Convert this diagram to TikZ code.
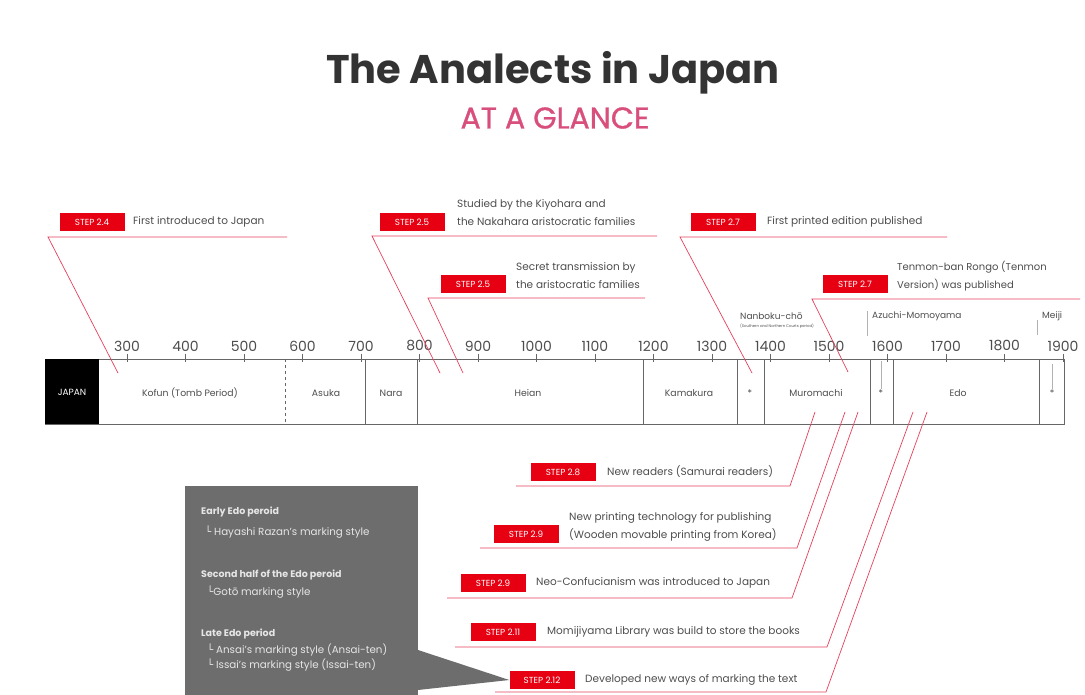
\documentclass[tikz,border=0pt]{standalone}
\usepackage{fontspec}
\setmainfont{Poppins}
\newfontfamily\medfont[FakeBold=1]{Poppins}
\newfontfamily\symfont{DejaVu Sans}
\definecolor{stepred}{HTML}{E60012}
\definecolor{linered}{HTML}{E4405A}
\definecolor{glance}{HTML}{D94F7C}
\definecolor{titlegray}{HTML}{333333}
\definecolor{textgray}{HTML}{4D4D4D}
\definecolor{boxline}{HTML}{666666}
\definecolor{calloutgray}{HTML}{6D6D6D}
\definecolor{calltext}{HTML}{E6E6E6}
\begin{document}
\begin{tikzpicture}[x=1pt,y=-1pt,
  stepbox/.style={fill=stepred,text=white,font=\fontsize{8.8}{9}\selectfont,minimum width=65pt,minimum height=18pt,inner sep=0pt},
  steptext/.style={anchor=west,text=textgray,font=\fontsize{10.5}{18}\selectfont,align=left,inner sep=0pt},
  uline/.style={linered,line width=0.7pt},
  frame/.style={draw=boxline,line width=0.8pt},
  divider/.style={boxline,line width=0.8pt},
  celllbl/.style={text=textgray,font=\fontsize{9.3}{10}\selectfont,inner sep=0pt},
  yearlbl/.style={text=textgray,font=\fontsize{14}{16}\selectfont,inner sep=0pt},
  tick/.style={boxline,line width=0.6pt},
  toplbl/.style={anchor=west,text=textgray,font=\fontsize{9}{10}\selectfont,inner sep=0pt},
  faint/.style={gray!60,line width=0.5pt},
  callhead/.style={anchor=west,text=calltext,font=\fontsize{9.5}{11}\selectfont\bfseries,inner sep=0pt},
  callitem/.style={anchor=west,text=calltext,font=\fontsize{10.3}{12}\selectfont,inner sep=0pt}
]
\useasboundingbox (0,0) rectangle (1085,695);

% Title
\node[font=\fontsize{40}{46}\selectfont\bfseries,text=titlegray] (title) at (553,73) {The Analects in Japan};
\node[font=\fontsize{30}{34}\selectfont\medfont,text=glance] (glance) at (555,118) {AT A GLANCE};

% Timeline frame
\node[frame,minimum width=1019pt,minimum height=65pt,inner sep=0pt,anchor=north west] (tl) at (45,359) {};
\node[fill=black,minimum width=54pt,minimum height=65pt,inner sep=0pt,anchor=north west] (japan) at (45,359) {};
\node[text=white,font=\fontsize{9}{10}\selectfont,inner sep=0pt] (japanlbl) at (72,392) {JAPAN};
\draw[divider,dashed] (285,359) -- (285,424);
\foreach \xx in {365,417,643,737,764,870,893,1039}{\draw[divider] (\xx,359) -- (\xx,424);}

% Years
\foreach \yr [count=\i from 0] in {300,400,...,1900}{
  \pgfmathsetmacro\xx{127+\i*58.5}
  \node[yearlbl] (yr\yr) at (\xx,346) {\yr};
  \draw[tick] (\xx,354) -- (\xx,362);
}

% Cell labels
\node[celllbl] (kofun) at (190,393) {Kofun (Tomb Period)};
\node[celllbl] (asuka) at (326,393) {Asuka};
\node[celllbl] (nara) at (391,393) {Nara};
\node[celllbl] (heian) at (528,393) {Heian};
\node[celllbl] (kamakura) at (689,393) {Kamakura};
\node[celllbl] (nanast) at (750,393) {*};
\node[celllbl] (muromachi) at (816,393) {Muromachi};
\node[celllbl] (azuast) at (881,393) {*};
\node[celllbl] (edo) at (958,393) {Edo};
\node[celllbl] (meiast) at (1052,393) {*};
\draw[faint] (881,361) -- (azuast.north);
\draw[faint] (1052,364) -- (meiast.north);

% Labels above timeline
\node[toplbl] (nanboku) at (740,316) {Nanboku-chō};
\node[toplbl,font=\fontsize{3.8}{4}\selectfont] (nanbokusub) at (740,326) {(Southern and Northern Courts period)};
\node[toplbl] (azuchi) at (872,316) {Azuchi-Momoyama};
\node[toplbl] (meiji) at (1042,316) {Meiji};
\draw[faint] (867,311) -- (867,336);
\draw[faint] (1037,320) -- (1037,335);

% Top steps
\node[stepbox] (s24) at (92,222) {STEP 2.4};
\node[steptext] (t24) at (133,222) {First introduced to Japan};
\coordinate (u24l) at (48,237); \coordinate (u24r) at (287,237); \coordinate (e24) at (118,373);
\draw[uline] (u24r) -- (u24l) -- (e24);

\node[stepbox] (s25a) at (412,222) {STEP 2.5};
\node[steptext] (t25a) at (457,213) {Studied by the Kiyohara and\\the Nakahara aristocratic families};
\coordinate (u25al) at (372,236); \coordinate (u25ar) at (657,236); \coordinate (e25a) at (440,373);
\draw[uline] (u25ar) -- (u25al) -- (e25a);

\node[stepbox] (s25b) at (473,284) {STEP 2.5};
\node[steptext] (t25b) at (516,276) {Secret transmission by\\the aristocratic families};
\coordinate (u25bl) at (428,298); \coordinate (u25br) at (645,298); \coordinate (e25b) at (463,373);
\draw[uline] (u25br) -- (u25bl) -- (e25b);

\node[stepbox] (s27a) at (723,222) {STEP 2.7};
\node[steptext] (t27a) at (767,222) {First printed edition published};
\coordinate (u27al) at (680,237); \coordinate (u27ar) at (947,237); \coordinate (e27a) at (752,373);
\draw[uline] (u27ar) -- (u27al) -- (e27a);

\node[stepbox] (s27b) at (855,284) {STEP 2.7};
\node[steptext,font=\fontsize{10}{18}\selectfont] (t27b) at (897,276) {Tenmon-ban Rongo (Tenmon\\Version) was published};
\coordinate (u27bl) at (812,299); \coordinate (u27br) at (1080,299); \coordinate (e27b) at (848,372);
\draw[uline] (u27br) -- (u27bl) -- (e27b);

% Bottom steps
\node[stepbox] (s28) at (563,472) {STEP 2.8};
\node[steptext] (t28) at (607,472) {New readers (Samurai readers)};
\coordinate (u28l) at (516,486); \coordinate (u28r) at (790,486); \coordinate (e28) at (815,412);
\draw[uline] (u28l) -- (u28r) -- (e28);

\node[stepbox] (s29a) at (526,534) {STEP 2.9};
\node[steptext] (t29a) at (569,527) {New printing technology for publishing\\(Wooden movable printing from Korea)};
\coordinate (u29al) at (480,548); \coordinate (u29ar) at (797,548); \coordinate (e29a) at (845,412);
\draw[uline] (u29al) -- (u29ar) -- (e29a);

\node[stepbox] (s29b) at (493,583) {STEP 2.9};
\node[steptext] (t29b) at (536,583) {Neo-Confucianism was introduced to Japan};
\coordinate (u29bl) at (447,598); \coordinate (u29br) at (792,598); \coordinate (e29b) at (858,412);
\draw[uline] (u29bl) -- (u29br) -- (e29b);

\node[stepbox] (s211) at (503,632) {STEP 2.11};
\node[steptext] (t211) at (547,632) {Momijiyama Library was build to store the books};
\coordinate (u211l) at (455,647); \coordinate (u211r) at (827,647); \coordinate (e211) at (913,412);
\draw[uline] (u211l) -- (u211r) -- (e211);

% Callout
\node[fill=calloutgray,minimum width=233pt,minimum height=212pt,inner sep=0pt,anchor=north west] (callout) at (185,486) {};
\node[stepbox] (s212) at (542,680) {STEP 2.12};
\fill[calloutgray] (418,650) -- (s212.west) -- (418,690) -- cycle;
\node[steptext] (t212) at (585,680) {Developed new ways of marking the text};
\coordinate (u212l) at (495,692); \coordinate (u212r) at (826,692); \coordinate (e212) at (927,412);
\draw[uline] (u212l) -- (u212r) -- (e212);

\node[callhead] (c1) at (201,512) {Early Edo peroid};
\node[callitem] (c2) at (205,532) {{\symfont └} Hayashi Razan's marking style};
\node[callhead] (c3) at (201,575) {Second half of the Edo peroid};
\node[callitem] (c4) at (207,592) {{\symfont └}Gotō marking style};
\node[callhead] (c5) at (201,634) {Late Edo period};
\node[callitem] (c6) at (207,650) {{\symfont └} Ansai's marking style (Ansai-ten)};
\node[callitem] (c7) at (207,665) {{\symfont └} Issai's marking style  (Issai-ten)};
\end{tikzpicture}
\end{document}
